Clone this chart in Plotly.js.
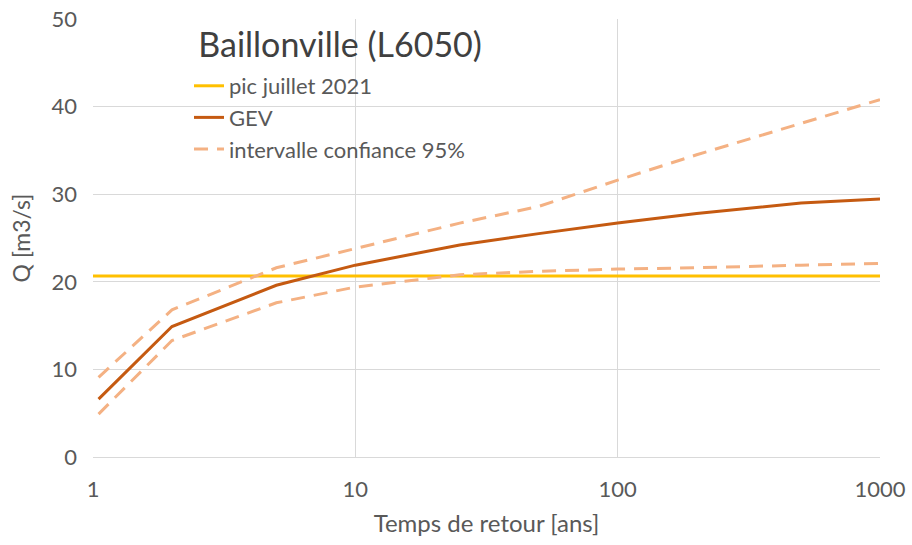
<!DOCTYPE html>
<html>
<head>
<meta charset="utf-8">
<script src="https://cdn.plot.ly/plotly-3.0.1.min.js"></script>
<style>html,body{margin:0;padding:0;background:#fff;}#chart{width:912px;height:545px;}</style>
</head>
<body>
<div id="chart"></div>
<script>
// Return periods (years)
const returnPeriods = [1.05, 2, 5, 10, 25, 50, 100, 200, 500, 1000];
// GEV fitted discharge (m3/s)
const gevQ = [6.6, 14.9, 19.6, 21.9, 24.2, 25.5, 26.7, 27.8, 29.0, 29.45];
// 95% confidence interval bounds
const ciUpper = [9.1, 16.8, 21.6, 23.8, 26.7, 28.6, 31.6, 34.5, 38.1, 40.8];
const ciLower = [4.9, 13.3, 17.6, 19.4, 20.8, 21.2, 21.45, 21.6, 21.9, 22.1];
// July 2021 peak
const peakT = [1, 1000];
const peakQ = [20.65, 20.65];

const font = "Lato, 'Open Sans', sans-serif";
const txt = "#595959";

const traces = [
  {x: peakT, y: peakQ, mode: "lines", name: "pic juillet 2021",
   line: {color: "#FFC000", width: 3}},
  {x: returnPeriods, y: gevQ, mode: "lines", name: "GEV",
   line: {color: "#C55A11", width: 3}},
  {x: returnPeriods, y: ciUpper, mode: "lines", name: "intervalle confiance 95%",
   legendgroup: "ci", line: {color: "#F4B183", width: 3, dash: "14px,9px"}},
  {x: returnPeriods, y: ciLower, mode: "lines", name: "intervalle confiance 95%",
   legendgroup: "ci", showlegend: false, line: {color: "#F4B183", width: 3, dash: "14px,9px"}}
];

const layout = {
  width: 912, height: 545,
  margin: {l: 93, r: 32, t: 19, b: 88},
  paper_bgcolor: "#fff", plot_bgcolor: "#fff",
  font: {family: font, color: txt, size: 22},
  title: {text: "Baillonville (L6050)", font: {family: font, size: 34, color: "#404040"},
          x: 0.314, xanchor: "center", y: 0.94, yanchor: "middle", xref: "paper", yref: "paper"},
  showlegend: true,
  legend: {x: 0.122, y: 0.895, xanchor: "left", yanchor: "top", bgcolor: "rgba(255,255,255,0)",
           font: {family: font, size: 22, color: txt}, tracegroupgap: 0},
  xaxis: {type: "log", range: [0, 3], tickvals: [1, 10, 100, 1000], ticktext: ["1", "10", "100", "1000"],
          showgrid: true, gridcolor: "#D9D9D9", gridwidth: 1, zeroline: false,
          showline: true, linecolor: "#D9D9D9", ticks: "", ticklabelstandoff: 13,
          tickfont: {family: font, size: 22, color: txt},
          title: {text: "Temps de retour [ans]", font: {family: font, size: 24, color: txt}, standoff: 13}},
  yaxis: {range: [0, 50], dtick: 10, showgrid: true, gridcolor: "#D9D9D9", gridwidth: 1,
          zeroline: false, showline: false, ticks: "", ticklabelstandoff: 15, automargin: "left",
          tickfont: {family: font, size: 22, color: txt},
          title: {text: "Q [m3/s]", font: {family: font, size: 23, color: txt}, standoff: 14}}
};

Plotly.newPlot("chart", traces, layout, {displayModeBar: false, staticPlot: true});
</script>
</body>
</html>
